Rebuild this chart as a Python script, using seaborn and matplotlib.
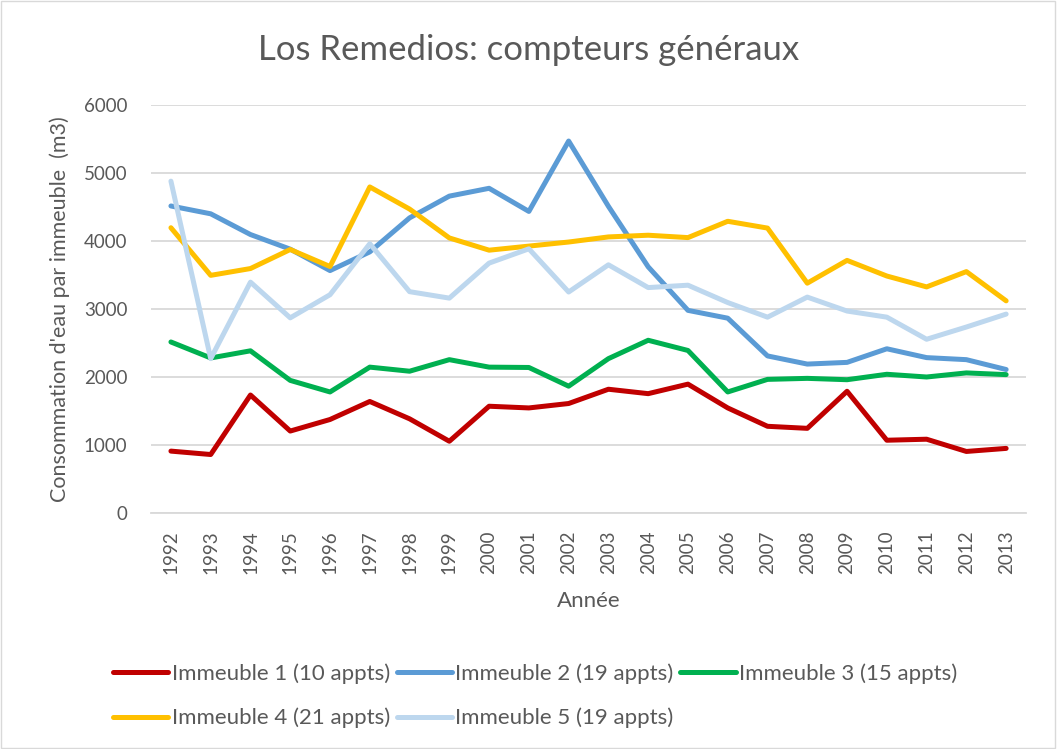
import numpy as np
import pandas as pd
import matplotlib
matplotlib.use("Agg")
import matplotlib.pyplot as plt
import seaborn as sns
from matplotlib.patches import Rectangle

years = list(range(1992, 2014))

immeuble_1 = [910, 860, 1735, 1205, 1375, 1640, 1385, 1055, 1570, 1545, 1610,
              1820, 1755, 1895, 1545, 1275, 1245, 1790, 1070, 1085, 905, 950]
immeuble_2 = [4515, 4400, 4095, 3880, 3565, 3840, 4340, 4660, 4775, 4435, 5470,
              4510, 3620, 2980, 2865, 2310, 2190, 2215, 2415, 2285, 2255, 2110]
immeuble_3 = [2515, 2280, 2385, 1950, 1780, 2145, 2085, 2255, 2145, 2140, 1865,
              2270, 2540, 2390, 1780, 1965, 1980, 1960, 2040, 2000, 2060, 2035]
immeuble_4 = [4195, 3495, 3595, 3875, 3625, 4795, 4470, 4045, 3865, 3925, 3985,
              4060, 4085, 4050, 4290, 4190, 3380, 3715, 3485, 3325, 3550, 3120]
immeuble_5 = [4880, 2270, 3395, 2870, 3210, 3960, 3255, 3160, 3675, 3885, 3250,
              3650, 3315, 3350, 3095, 2880, 3175, 2970, 2880, 2555, 2735, 2925]

series_names = ["Immeuble 1 (10 appts)", "Immeuble 2 (19 appts)",
                "Immeuble 3 (15 appts)", "Immeuble 4 (21 appts)",
                "Immeuble 5 (19 appts)"]
series_values = [immeuble_1, immeuble_2, immeuble_3, immeuble_4, immeuble_5]
colors = ["#C00000", "#5B9BD5", "#00B050", "#FFC000", "#BDD7EE"]

df = pd.DataFrame({
    "Année": np.tile(years, len(series_names)),
    "valeur": np.concatenate(series_values),
    "serie": np.repeat(series_names, len(years)),
})

sns.set_theme(style="white")
plt.rcParams["font.family"] = ["Lato", "DejaVu Sans"]
text_grey = "#595959"

fig = plt.figure(figsize=(10.57, 7.49), dpi=100)
ax = fig.add_axes([0.1429, 0.3151, 0.9707 - 0.1429, 0.8598 - 0.3151])

sns.lineplot(data=df, x="Année", y="valeur", hue="serie",
             palette=dict(zip(series_names, colors)), linewidth=3.6,
             ax=ax, legend=False, sort=False)

ax.set_xlim(years[0] - 0.5, years[-1] + 0.5)
ax.set_ylim(0, 6000)
ax.set_yticks(range(0, 6001, 1000))
ax.set_xticks(years)
ax.set_xticklabels([str(y) for y in years], rotation=90)
ax.tick_params(axis="both", length=0, labelsize=13.5, colors=text_grey)
ax.tick_params(axis="y", pad=17)
ax.tick_params(axis="x", pad=12.5)
ax.yaxis.grid(True, color="#D9D9D9", linewidth=1.3)
ax.set_axisbelow(True)
for side in ["top", "right", "left"]:
    ax.spines[side].set_visible(False)
ax.spines["bottom"].set_color("#D9D9D9")
ax.spines["bottom"].set_linewidth(1.3)

ax.set_xlabel("Année", fontsize=16, color=text_grey, labelpad=12)
ax.set_ylabel("Consommation d'eau par immeuble  (m3)", fontsize=15.5,
              color=text_grey, labelpad=10)
fig.text(0.5, 0.933, "Los Remedios: compteurs généraux", ha="center",
         va="center", fontsize=25, color=text_grey)

# legend filled column by column, so order entries to read row by row
order = [0, 3, 1, 4, 2]
handles = [plt.Line2D([], [], color=colors[i], linewidth=3.6) for i in order]
labels = [series_names[i] for i in order]
leg = fig.legend(handles, labels, loc="upper left",
                 bbox_to_anchor=(0.1067, 0.1147), ncol=3, frameon=False,
                 fontsize=16, handlelength=2.5, handletextpad=0.15,
                 columnspacing=0.3, labelspacing=1.09, borderaxespad=0,
                 borderpad=0)
for t in leg.get_texts():
    t.set_color(text_grey)

fig.patches.append(Rectangle((0.001, 0.001), 0.997, 0.997, transform=fig.transFigure,
                             fill=False, edgecolor="#D9D9D9", linewidth=1.0))

fig.savefig("out.png", dpi=100)
